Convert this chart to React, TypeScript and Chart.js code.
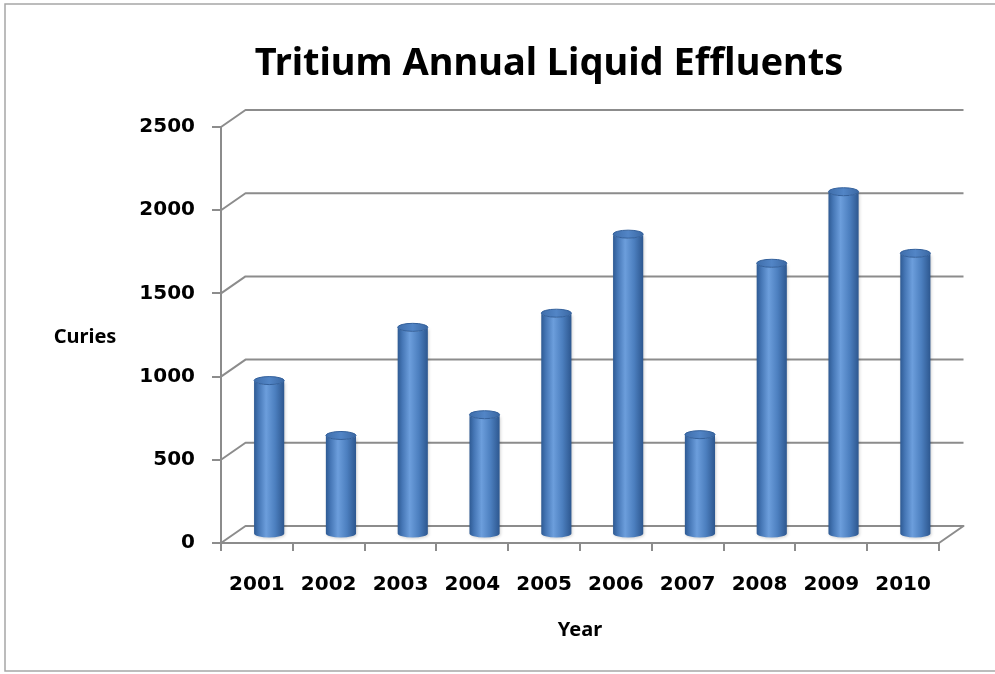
import React, { useEffect, useRef } from "react";
import { Chart, registerables } from "chart.js";

Chart.register(...registerables);

// ---- data ----
const years = ["2001", "2002", "2003", "2004", "2005", "2006", "2007", "2008", "2009", "2010"];
const curies = [925, 595, 1245, 720, 1330, 1805, 600, 1630, 2060, 1690];
const yMin = 0;
const yMax = 2500;
const yStep = 500;
const chartTitle = "Tritium Annual Liquid Effluents";
const xTitle = "Year";
const yTitle = "Curies";

// ---- styling ----
const DX = 24.5;
const DY = 17;
const GRID = "#8C8C8C";

function drawCylinder(ctx: CanvasRenderingContext2D, cx: number, top: number, bottom: number, w: number) {
  const rx = w / 2;
  const ry = 4;
  const g = ctx.createLinearGradient(cx - rx, 0, cx + rx, 0);
  g.addColorStop(0, "#2E5A93");
  g.addColorStop(0.15, "#4576B5");
  g.addColorStop(0.4, "#6C9EDC");
  g.addColorStop(0.7, "#4C7FBF");
  g.addColorStop(1, "#2D578F");
  ctx.save();
  ctx.shadowColor = "rgba(0,0,0,0.18)";
  ctx.shadowBlur = 3;
  ctx.shadowOffsetX = 1;
  ctx.shadowOffsetY = 1;
  ctx.beginPath();
  ctx.moveTo(cx - rx, top);
  ctx.lineTo(cx - rx, bottom);
  ctx.ellipse(cx, bottom, rx, ry, 0, Math.PI, 0, true);
  ctx.lineTo(cx + rx, top);
  ctx.ellipse(cx, top, rx, ry, 0, 0, Math.PI, false);
  ctx.closePath();
  ctx.fillStyle = g;
  ctx.fill();
  ctx.restore();
  // top cap
  ctx.save();
  ctx.beginPath();
  ctx.ellipse(cx, top, rx, ry, 0, 0, Math.PI * 2);
  const tg = ctx.createLinearGradient(cx - rx, 0, cx + rx, 0);
  tg.addColorStop(0, "#3F6EAB");
  tg.addColorStop(0.5, "#5285C6");
  tg.addColorStop(1, "#3B68A3");
  ctx.fillStyle = tg;
  ctx.fill();
  ctx.strokeStyle = "#33609B";
  ctx.lineWidth = 1;
  ctx.stroke();
  ctx.restore();
}

const wallPlugin = {
  id: "wall3d",
  beforeDatasetsDraw(chart: any) {
    const { ctx, chartArea } = chart;
    const { left, right } = chartArea;
    const y = chart.scales.y;
    ctx.save();
    ctx.strokeStyle = GRID;
    ctx.lineWidth = 2;
    ctx.lineJoin = "round";
    y.ticks.forEach((t: any) => {
      const yf = y.getPixelForValue(t.value);
      ctx.beginPath();
      ctx.moveTo(left, yf);
      ctx.lineTo(left + DX, yf - DY);
      ctx.lineTo(right + DX, yf - DY);
      if (t.value === yMin) ctx.lineTo(right, yf);
      ctx.stroke();
    });
    ctx.restore();
  },
  afterDatasetsDraw(chart: any) {
    const { ctx } = chart;
    const meta = chart.getDatasetMeta(0);
    meta.data.forEach((el: any) => {
      const p = el.getProps(["x", "y", "base", "width"], true);
      drawCylinder(ctx, p.x + DX / 2, p.y - DY / 2, p.base - DY / 2, p.width);
    });
  },
  afterDraw(chart: any) {
    const { ctx } = chart;
    ctx.save();
    ctx.strokeStyle = "#A6A6A6";
    ctx.lineWidth = 1.5;
    ctx.strokeRect(5, 4, 1010, 667);
    ctx.fillStyle = "#000";
    ctx.font = "bold 20px 'Noto Sans'";
    ctx.textAlign = "center";
    ctx.textBaseline = "alphabetic";
    const y = chart.scales.y;
    const mid = (y.getPixelForValue(1500) + y.getPixelForValue(1000)) / 2;
    ctx.fillText(yTitle, 85, mid + 8);
    ctx.restore();
  },
};

export default function App() {
  const ref = useRef<HTMLCanvasElement | null>(null);
  useEffect(() => {
    if (!ref.current) return;
    const chart = new Chart(ref.current, {
      type: "bar",
      data: {
        labels: years,
        datasets: [
          {
            label: yTitle,
            data: curies,
            yAxisID: "y",
            backgroundColor: "rgba(0,0,0,0)",
            borderWidth: 0,
            categoryPercentage: 1,
            barPercentage: 0.42,
          },
        ],
      },
      plugins: [wallPlugin],
      options: {
        animation: false,
        responsive: false,
        devicePixelRatio: 1,
        layout: { padding: { left: 103, right: 0, top: 0, bottom: 0 } },
        plugins: {
          legend: { display: false },
          tooltip: { enabled: false },
          title: {
            display: true,
            text: chartTitle,
            color: "#000",
            font: { family: "'Noto Sans'", size: 38, weight: "bold", lineHeight: 1.2 },
            padding: { top: 41, bottom: 40.4 },
          },
        },
        scales: {
          x: {
            grid: {
              display: true,
              drawOnChartArea: false,
              drawTicks: true,
              tickLength: 8,
              color: GRID,
              lineWidth: 2,
              offset: true,
            },
            border: { display: true, color: GRID, width: 2 },
            ticks: {
              color: "#000",
              font: { family: "'DejaVu Sans'", size: 20, weight: "bold" },
              padding: 22,
              autoSkip: false,
              maxRotation: 0,
            },
            title: {
              display: true,
              text: xTitle,
              color: "#000",
              font: { family: "'Noto Sans'", size: 20, weight: "bold", lineHeight: 1.2 },
              padding: { top: 0, bottom: 32 },
            },
            afterFit: (s: any) => {
              s.height = 131;
            },
          },
          y: {
            position: "left",
            min: yMin,
            max: yMax,
            ticks: {
              stepSize: yStep,
              color: "#000",
              font: { family: "'DejaVu Sans'", size: 20, weight: "bold" },
              padding: 17,
              callback: (v: any) => String(v),
            },
            grid: {
              display: true,
              drawOnChartArea: false,
              drawTicks: true,
              tickLength: 9,
              color: GRID,
              lineWidth: 2,
            },
            border: { display: true, color: GRID, width: 2 },
            afterFit: (s: any) => {
              s.width = 118;
            },
          },
          yR: {
            position: "right",
            display: true,
            min: yMin,
            max: yMax,
            ticks: { display: false },
            grid: { display: false, drawTicks: false },
            border: { display: false },
            afterFit: (s: any) => {
              s.width = 56;
            },
          },
        },
      },
    });
    return () => chart.destroy();
  }, []);
  return (
    <div style={{ position: "fixed", left: 0, top: 0, width: 995, height: 674, background: "#fff" }}>
      <canvas ref={ref} width={995} height={674} style={{ display: "block" }} />
    </div>
  );
}
